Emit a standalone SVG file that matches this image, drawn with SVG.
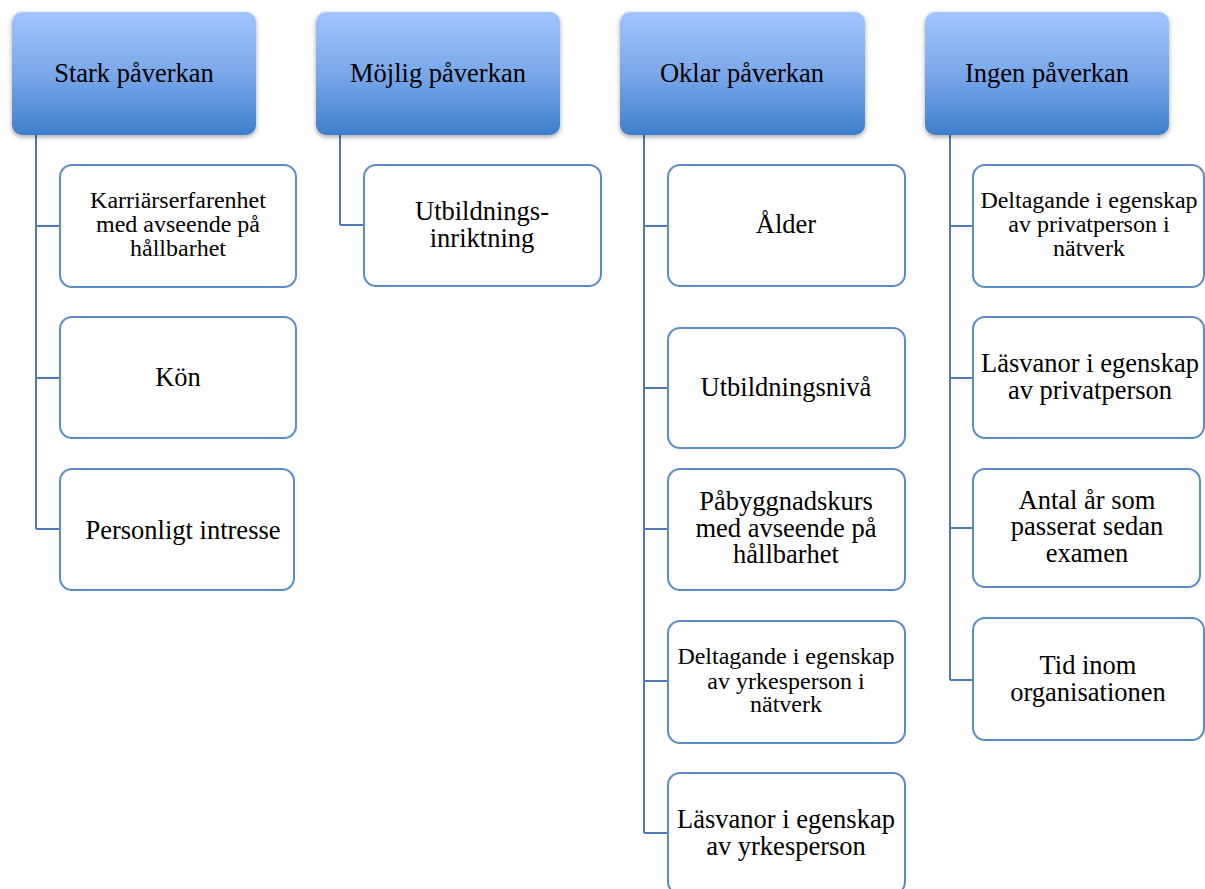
<svg xmlns="http://www.w3.org/2000/svg" width="1205" height="889" viewBox="0 0 1205 889">
<defs>
<linearGradient id="hg" x1="0" y1="0" x2="0" y2="1">
<stop offset="0" stop-color="#a2c5ff"/>
<stop offset="0.5" stop-color="#7aa8ea"/>
<stop offset="1" stop-color="#3f7dcc"/>
</linearGradient>
<filter id="sh" x="-10%" y="-10%" width="125%" height="130%">
<feDropShadow dx="0" dy="2" stdDeviation="2.5" flood-color="#000" flood-opacity="0.35"/>
</filter>
<style>
.hdr{fill:url(#hg);filter:url(#sh)}
.box{fill:#fff;stroke:#5a8bcb;stroke-width:2}
.con{fill:none;stroke:#4d79b4;stroke-width:2}
text{font-family:"Liberation Serif","Times New Roman",serif;fill:#000;text-anchor:middle}
.big{font-size:26.5px}
.sm{font-size:24px}
</style>
</defs>
<rect width="1205" height="889" fill="#fff"/>
<g id="connectors">
<path class="con" d="M36 135V529M36 226H60M36 378H60M36 529H60"/>
<path class="con" d="M340 135V225M340 225H364"/>
<path class="con" d="M644 135V833M644 226H668M644 388H668M644 529H668M644 681H668M644 833H668"/>
<path class="con" d="M950 135V680M950 226H973M950 378H973M950 528H973M950 680H973"/>
</g>
<g id="h-stark"><rect class="hdr" x="12" y="12" width="244" height="123" rx="10"/><text class="big" x="134" y="82">Stark påverkan</text></g>
<g id="h-mojlig"><rect class="hdr" x="316" y="12" width="244" height="123" rx="10"/><text class="big" x="438" y="82">Möjlig påverkan</text></g>
<g id="h-oklar"><rect class="hdr" x="620" y="12" width="245" height="123" rx="10"/><text class="big" x="742" y="82">Oklar påverkan</text></g>
<g id="h-ingen"><rect class="hdr" x="925" y="12" width="244" height="123" rx="10"/><text class="big" x="1047" y="82">Ingen påverkan</text></g>

<g id="s1"><rect class="box" x="60" y="165" width="236" height="122" rx="12"/><text class="sm" x="178"><tspan x="178" y="208">Karriärserfarenhet</tspan><tspan x="178" y="232">med avseende på</tspan><tspan x="178" y="256">hållbarhet</tspan></text></g>
<g id="s2"><rect class="box" x="60" y="317" width="236" height="121" rx="12"/><text class="big" x="178" y="386">Kön</text></g>
<g id="s3"><rect class="box" x="60" y="469" width="234" height="121" rx="12"/><text class="big" x="183" y="539">Personligt intresse</text></g>

<g id="m1"><rect class="box" x="364" y="165" width="237" height="121" rx="12"/><text class="big"><tspan x="482" y="220">Utbildnings-</tspan><tspan x="482" y="247">inriktning</tspan></text></g>

<g id="o1"><rect class="box" x="668" y="165" width="237" height="121" rx="12"/><text class="big" x="786" y="233">Ålder</text></g>
<g id="o2"><rect class="box" x="668" y="328" width="237" height="120" rx="12"/><text class="big" x="786" y="396">Utbildningsnivå</text></g>
<g id="o3"><rect class="box" x="668" y="469" width="237" height="121" rx="12"/><text class="big"><tspan x="786" y="510">Påbyggnadskurs</tspan><tspan x="786" y="537">med avseende på</tspan><tspan x="786" y="563">hållbarhet</tspan></text></g>
<g id="o4"><rect class="box" x="668" y="621" width="237" height="122" rx="12"/><text class="sm"><tspan x="786" y="664">Deltagande i egenskap</tspan><tspan x="786" y="689">av yrkesperson i</tspan><tspan x="786" y="712">nätverk</tspan></text></g>
<g id="o5"><rect class="box" x="668" y="773" width="237" height="121" rx="12"/><text class="big"><tspan x="786" y="828">Läsvanor i egenskap</tspan><tspan x="786" y="855">av yrkesperson</tspan></text></g>

<g id="i1"><rect class="box" x="973" y="165" width="231" height="122" rx="12"/><text class="sm"><tspan x="1089" y="208">Deltagande i egenskap</tspan><tspan x="1089" y="232">av privatperson i</tspan><tspan x="1089" y="256">nätverk</tspan></text></g>
<g id="i2"><rect class="box" x="973" y="317" width="231" height="121" rx="12"/><text class="big"><tspan x="1090" y="372">Läsvanor i egenskap</tspan><tspan x="1090" y="399">av privatperson</tspan></text></g>
<g id="i3"><rect class="box" x="973" y="469" width="227" height="118" rx="12"/><text class="big"><tspan x="1087" y="509">Antal år som</tspan><tspan x="1087" y="535">passerat sedan</tspan><tspan x="1087" y="562">examen</tspan></text></g>
<g id="i4"><rect class="box" x="973" y="618" width="231" height="122" rx="12"/><text class="big"><tspan x="1088" y="674">Tid inom</tspan><tspan x="1088" y="701">organisationen</tspan></text></g>
</svg>
